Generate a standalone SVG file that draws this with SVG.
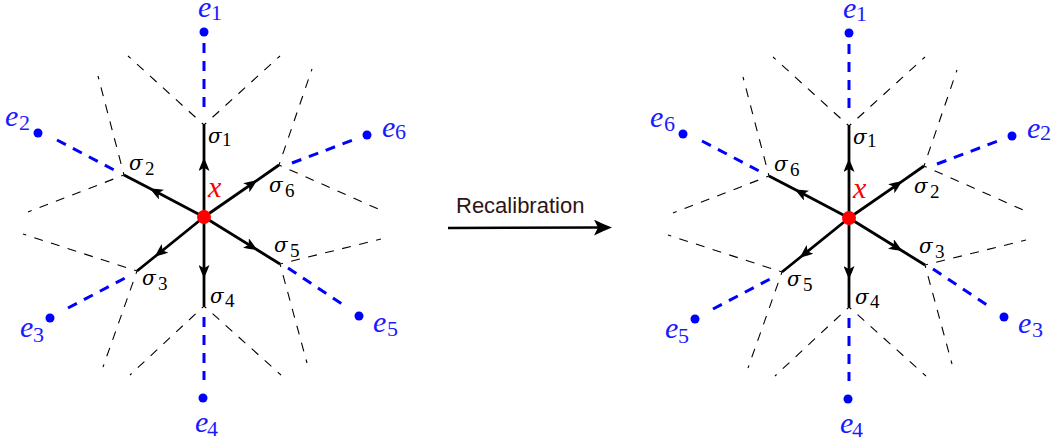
<svg xmlns="http://www.w3.org/2000/svg" width="1051" height="440" viewBox="0 0 1051 440">
<style>
.solid{fill:none;stroke:#000;stroke-width:2.8;marker-mid:url(#ah)}
.blk{fill:none;stroke:#000;stroke-width:1.1;stroke-dasharray:9 8.5;stroke-dashoffset:6}
.blu{fill:none;stroke:#0000ff;stroke-width:3;stroke-dasharray:10 8}
.dot{fill:#0000ff}
.ctr{fill:#ff0000}
.sig{font-family:"DejaVu Serif",serif;font-style:italic;font-size:20px;fill:#000}
.sub{font-family:"Liberation Serif",serif;font-style:normal;font-size:19px}
.el{font-family:"Liberation Serif",serif;font-style:italic;font-size:30px;fill:#1a1aff}
.esub{font-style:normal;font-size:22px}
.xl{font-family:"Liberation Serif",serif;font-style:italic;font-size:30px;fill:#ff0000}
.cap{font-family:"Liberation Sans",Arial,sans-serif;font-size:22px;fill:#2e1414}
</style>
<defs>
<marker id="ah" markerUnits="userSpaceOnUse" viewBox="0 0 13 11" markerWidth="13" markerHeight="11" refX="13" refY="5.5" orient="auto">
<path d="M13,5.5 Q6.5,2.4 0,0 L3.3,5.5 L0,11 Q6.5,8.6 13,5.5 Z" fill="#000"/>
</marker>
<marker id="big" markerUnits="userSpaceOnUse" viewBox="0 0 18 16" markerWidth="18" markerHeight="16" refX="5" refY="8" orient="auto">
<path d="M18,8 Q9,4.5 0,0 L4,8 L0,16 Q9,11.5 18,8 Z" fill="#000"/>
</marker>
</defs>

<!-- LEFT STAR -->
<g id="left">
<g id="L-connectors">
<polyline class="solid" points="204,217 204,158 204,125"/>
<polyline class="solid" points="204,217 150,188.6 124,175"/>
<polyline class="solid" points="204,217 155,256.5 137,271"/>
<polyline class="solid" points="204,217 204,278 204,306"/>
<polyline class="solid" points="204,217 257,249.8 280,264"/>
<polyline class="solid" points="204,217 257,180.3 279,165"/>
<line class="blu" x1="204" y1="43" x2="204" y2="107"/>
<line class="blu" x1="57" y1="140" x2="116" y2="171"/>
<line class="blu" x1="68" y1="308" x2="127" y2="277"/>
<line class="blu" x1="204" y1="317" x2="204" y2="380"/>
<line class="blu" x1="288" y1="268" x2="342" y2="304"/>
<line class="blu" x1="292" y1="163" x2="353" y2="140"/>
<line class="blk" x1="204" y1="125" x2="128" y2="56"/>
<line class="blk" x1="204" y1="125" x2="280" y2="56"/>
<line class="blk" x1="124" y1="175" x2="98" y2="76"/>
<line class="blk" x1="124" y1="175" x2="28" y2="212"/>
<line class="blk" x1="137" y1="271" x2="23" y2="234"/>
<line class="blk" x1="137" y1="271" x2="103" y2="367"/>
<line class="blk" x1="204" y1="306" x2="130" y2="375"/>
<line class="blk" x1="204" y1="306" x2="281" y2="375"/>
<line class="blk" x1="280" y1="264" x2="381" y2="239"/>
<line class="blk" x1="280" y1="264" x2="307" y2="363"/>
<line class="blk" x1="279" y1="165" x2="312" y2="69"/>
<line class="blk" x1="279" y1="165" x2="385" y2="212"/>
</g>
<g id="L-x"><circle class="ctr" cx="204" cy="217" r="7"/><text class="xl" x="208" y="197">x</text></g>
<g id="L-s1"><text class="sig" x="208" y="143">σ<tspan class="sub" x="222" y="146">1</tspan></text></g>
<g id="L-s2"><text class="sig" x="129" y="170">σ<tspan class="sub" x="145" y="175">2</tspan></text></g>
<g id="L-s3"><text class="sig" x="142" y="285">σ<tspan class="sub" x="158" y="290">3</tspan></text></g>
<g id="L-s4"><text class="sig" x="210" y="303">σ<tspan class="sub" x="225" y="307">4</tspan></text></g>
<g id="L-s5"><text class="sig" x="274" y="252">σ<tspan class="sub" x="290" y="257">5</tspan></text></g>
<g id="L-s6"><text class="sig" x="269" y="192">σ<tspan class="sub" x="285" y="197">6</tspan></text></g>
<g id="L-e1"><circle class="dot" cx="204" cy="32" r="4.5"/><text class="el" x="198" y="17">e<tspan class="esub" x="211" y="20">1</tspan></text></g>
<g id="L-e2"><circle class="dot" cx="38" cy="133" r="4.5"/><text class="el" x="5" y="126">e<tspan class="esub" x="19" y="130">2</tspan></text></g>
<g id="L-e3"><circle class="dot" cx="50" cy="318" r="4.5"/><text class="el" x="20" y="337">e<tspan class="esub" x="33" y="342">3</tspan></text></g>
<g id="L-e4"><circle class="dot" cx="203" cy="398" r="4.5"/><text class="el" x="195" y="432">e<tspan class="esub" x="207" y="436">4</tspan></text></g>
<g id="L-e5"><circle class="dot" cx="359" cy="316" r="4.5"/><text class="el" x="373" y="332">e<tspan class="esub" x="387" y="336">5</tspan></text></g>
<g id="L-e6"><circle class="dot" cx="367" cy="135" r="4.5"/><text class="el" x="382" y="137">e<tspan class="esub" x="395" y="139">6</tspan></text></g>
</g>

<!-- RECALIBRATION ARROW -->
<g id="recal">
<line x1="448" y1="228" x2="599" y2="227.6" stroke="#000" stroke-width="2.5" marker-end="url(#big)"/>
<text class="cap" x="456" y="213">Recalibration</text>
</g>

<!-- RIGHT STAR -->
<g id="right" transform="translate(645,1)">
<g id="R-connectors">
<polyline class="solid" points="204,217 204,158 204,125"/>
<polyline class="solid" points="204,217 150,188.6 124,175"/>
<polyline class="solid" points="204,217 155,256.5 137,271"/>
<polyline class="solid" points="204,217 204,278 204,306"/>
<polyline class="solid" points="204,217 257,249.8 280,264"/>
<polyline class="solid" points="204,217 257,180.3 279,165"/>
<line class="blu" x1="204" y1="43" x2="204" y2="107"/>
<line class="blu" x1="57" y1="140" x2="116" y2="171"/>
<line class="blu" x1="68" y1="308" x2="127" y2="277"/>
<line class="blu" x1="204" y1="317" x2="204" y2="380"/>
<line class="blu" x1="288" y1="268" x2="342" y2="304"/>
<line class="blu" x1="292" y1="163" x2="353" y2="140"/>
<line class="blk" x1="204" y1="125" x2="128" y2="56"/>
<line class="blk" x1="204" y1="125" x2="280" y2="56"/>
<line class="blk" x1="124" y1="175" x2="98" y2="76"/>
<line class="blk" x1="124" y1="175" x2="28" y2="212"/>
<line class="blk" x1="137" y1="271" x2="23" y2="234"/>
<line class="blk" x1="137" y1="271" x2="103" y2="367"/>
<line class="blk" x1="204" y1="306" x2="130" y2="375"/>
<line class="blk" x1="204" y1="306" x2="281" y2="375"/>
<line class="blk" x1="280" y1="264" x2="381" y2="239"/>
<line class="blk" x1="280" y1="264" x2="307" y2="363"/>
<line class="blk" x1="279" y1="165" x2="312" y2="69"/>
<line class="blk" x1="279" y1="165" x2="385" y2="212"/>
</g>
<g id="R-x"><circle class="ctr" cx="204" cy="217" r="7"/><text class="xl" x="208" y="197">x</text></g>
<g id="R-s1"><text class="sig" x="208" y="143">σ<tspan class="sub" x="222" y="146">1</tspan></text></g>
<g id="R-s6"><text class="sig" x="129" y="170">σ<tspan class="sub" x="145" y="175">6</tspan></text></g>
<g id="R-s5"><text class="sig" x="142" y="285">σ<tspan class="sub" x="158" y="290">5</tspan></text></g>
<g id="R-s4"><text class="sig" x="210" y="303">σ<tspan class="sub" x="225" y="307">4</tspan></text></g>
<g id="R-s3"><text class="sig" x="274" y="252">σ<tspan class="sub" x="290" y="257">3</tspan></text></g>
<g id="R-s2"><text class="sig" x="269" y="192">σ<tspan class="sub" x="285" y="197">2</tspan></text></g>
<g id="R-e1"><circle class="dot" cx="204" cy="32" r="4.5"/><text class="el" x="198" y="17">e<tspan class="esub" x="211" y="20">1</tspan></text></g>
<g id="R-e6"><circle class="dot" cx="38" cy="133" r="4.5"/><text class="el" x="5" y="126">e<tspan class="esub" x="19" y="130">6</tspan></text></g>
<g id="R-e5"><circle class="dot" cx="50" cy="318" r="4.5"/><text class="el" x="20" y="337">e<tspan class="esub" x="33" y="342">5</tspan></text></g>
<g id="R-e4"><circle class="dot" cx="203" cy="398" r="4.5"/><text class="el" x="195" y="432">e<tspan class="esub" x="207" y="436">4</tspan></text></g>
<g id="R-e3"><circle class="dot" cx="359" cy="316" r="4.5"/><text class="el" x="373" y="332">e<tspan class="esub" x="387" y="336">3</tspan></text></g>
<g id="R-e2"><circle class="dot" cx="367" cy="135" r="4.5"/><text class="el" x="382" y="137">e<tspan class="esub" x="395" y="139">2</tspan></text></g>
</g>
</svg>
